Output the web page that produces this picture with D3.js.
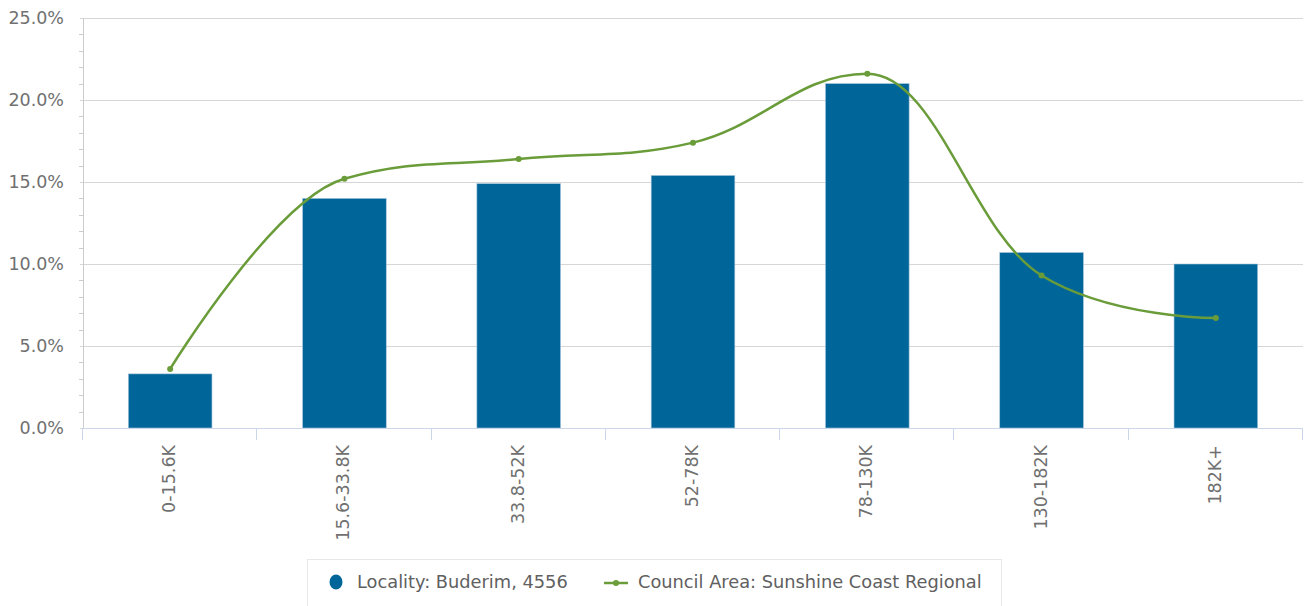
<!DOCTYPE html>
<html><head><meta charset="utf-8">
<script src="https://cdn.jsdelivr.net/npm/d3@7/dist/d3.min.js"></script>
<style>body{margin:0;background:#fff;font-family:"DejaVu Sans",sans-serif;}</style>
</head><body><svg id="c" width="1307" height="606"></svg>
<script>
const categories = ["0-15.6K","15.6-33.8K","33.8-52K","52-78K","78-130K","130-182K","182K+"];
const localityValues = [3.3, 14.0, 14.9, 15.4, 21.0, 10.7, 10.0];
const councilValues = [3.6, 15.2, 16.4, 17.4, 21.6, 9.3, 6.7];
const yTicks = [0, 5, 10, 15, 20, 25];
const seriesNames = ["Locality: Buderim, 4556", "Council Area: Sunshine Coast Regional"];

const barColor = "#006699", lineColor = "#6a9c3a", textColor = "#707070";
const fs = 17.5;
const L = 83, R = 1303, T = 18, B = 428;
const svg = d3.select("#c");
const x = d3.scaleBand().domain(categories).range([L, R]).paddingInner(0).paddingOuter(0);
const y = d3.scaleLinear().domain([0, 25]).range([B, T]);

// gridlines
svg.append("g").selectAll("line").data(yTicks).join("line")
  .attr("x1", L - 3).attr("x2", R).attr("y1", d => y(d) + 0.5).attr("y2", d => y(d) + 0.5)
  .attr("stroke", "#d6d6d6").attr("stroke-width", 1);
// minor ticks
svg.append("g").selectAll("line").data(d3.range(0, 25, 1).filter(v => v % 5 !== 0)).join("line")
  .attr("x1", L - 4).attr("x2", L).attr("y1", d => Math.round(y(d)) + 0.5).attr("y2", d => Math.round(y(d)) + 0.5)
  .attr("stroke", "#ccc");
// y axis line
svg.append("line").attr("x1", L + 0.5).attr("x2", L + 0.5).attr("y1", T).attr("y2", B).attr("stroke", "#ccc");
// y labels
svg.append("g").selectAll("text").data(yTicks).join("text")
  .attr("x", 64).attr("y", d => y(d)).attr("dy", "0.35em").attr("text-anchor", "end")
  .attr("font-size", fs).attr("fill", textColor).text(d => d.toFixed(1) + "%");

// bars
const bw = x.bandwidth() * 0.48;
svg.append("g").selectAll("rect").data(localityValues).join("rect")
  .attr("x", (d, i) => x(categories[i]) + (x.bandwidth() - bw) / 2)
  .attr("width", bw)
  .attr("y", d => y(d)).attr("height", d => B - y(d))
  .attr("fill", barColor).attr("stroke", "#a9c5dc").attr("stroke-width", 0.6);

// x axis
svg.append("line").attr("x1", L).attr("x2", R).attr("y1", B + 0.5).attr("y2", B + 0.5).attr("stroke", "#ccd6eb");
const bounds = categories.map(c => x(c)).concat([R]);
svg.append("g").selectAll("line").data(bounds).join("line")
  .attr("x1", d => Math.round(d) - 0.5).attr("x2", d => Math.round(d) - 0.5).attr("y1", B).attr("y2", B + 12)
  .attr("stroke", "#ccd6eb");
svg.append("g").selectAll("text").data(categories).join("text")
  .attr("transform", d => `translate(${x(d) + x.bandwidth() / 2 + 5},445) rotate(-90)`)
  .attr("text-anchor", "end").attr("font-size", fs).attr("fill", textColor).text(d => d);

// spline (Highcharts-style)
const pts = councilValues.map((v, i) => ({ px: x(categories[i]) + x.bandwidth() / 2, py: y(v) }));
const sm = 1.5, den = sm + 1;
pts.forEach((p, i) => {
  const a = pts[i - 1], b = pts[i + 1];
  if (a && b) {
    let lcx = (sm * p.px + a.px) / den, lcy = (sm * p.py + a.py) / den;
    let rcx = (sm * p.px + b.px) / den, rcy = (sm * p.py + b.py) / den;
    const corr = ((rcy - lcy) * (rcx - p.px)) / (rcx - lcx) + p.py - rcy;
    lcy += corr; rcy += corr;
    if (lcy > a.py && lcy > p.py) { lcy = Math.max(a.py, p.py); rcy = 2 * p.py - lcy; }
    else if (lcy < a.py && lcy < p.py) { lcy = Math.min(a.py, p.py); rcy = 2 * p.py - lcy; }
    if (rcy > b.py && rcy > p.py) { rcy = Math.max(b.py, p.py); lcy = 2 * p.py - rcy; }
    else if (rcy < b.py && rcy < p.py) { rcy = Math.min(b.py, p.py); lcy = 2 * p.py - rcy; }
    p.lcx = lcx; p.lcy = lcy; p.rcx = rcx; p.rcy = rcy;
  }
});
const path = d3.path();
pts.forEach((p, i) => {
  if (i === 0) { path.moveTo(p.px, p.py); return; }
  const a = pts[i - 1];
  path.bezierCurveTo(a.rcx ?? a.px, a.rcy ?? a.py, p.lcx ?? p.px, p.lcy ?? p.py, p.px, p.py);
});
svg.append("path").attr("d", path.toString()).attr("fill", "none").attr("stroke", lineColor).attr("stroke-width", 2.5);
svg.append("g").selectAll("circle").data(pts).join("circle")
  .attr("cx", d => d.px).attr("cy", d => d.py).attr("r", 3).attr("fill", lineColor);

// legend
const lg = svg.append("g");
lg.append("rect").attr("x", 307.5).attr("y", 559.5).attr("width", 694).attr("height", 60)
  .attr("fill", "#fff").attr("stroke", "#e8e8e8");
lg.append("ellipse").attr("cx", 336).attr("cy", 582).attr("rx", 6.5).attr("ry", 7.5).attr("fill", barColor);
lg.append("text").attr("x", 357).attr("y", 582).attr("dy", "0.35em").attr("font-size", 17.8).attr("fill", "#606060").text(seriesNames[0]);
lg.append("line").attr("x1", 604).attr("x2", 628).attr("y1", 583).attr("y2", 583).attr("stroke", lineColor).attr("stroke-width", 2.5);
lg.append("circle").attr("cx", 616).attr("cy", 583).attr("r", 3).attr("fill", lineColor);
lg.append("text").attr("x", 638).attr("y", 582).attr("dy", "0.35em").attr("font-size", 17.8).attr("fill", "#606060").text(seriesNames[1]);
</script></body></html>
